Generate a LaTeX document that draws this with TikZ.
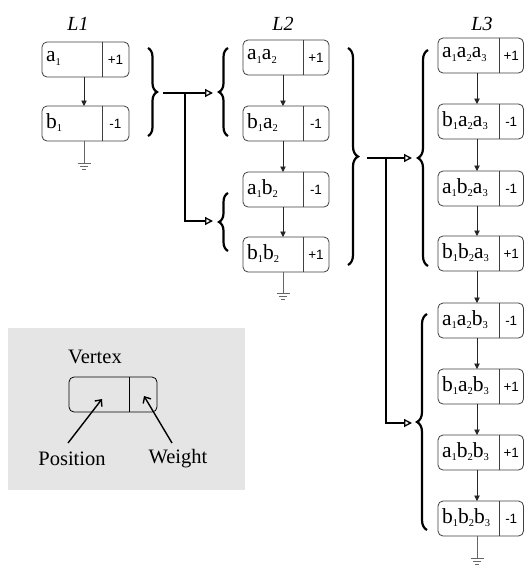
\documentclass[tikz,border=0pt]{standalone}
\usepackage{fontspec}
\setmainfont{Liberation Serif}
\newfontfamily\wfont{Liberation Sans}
\usetikzlibrary{arrows.meta,decorations.pathreplacing,calc}
\newcommand\sbx[1]{\raisebox{-0.35ex}{\fontsize{10.5}{10}\selectfont #1}}
\newcommand\vtx[7]{%
  \node[vbox, anchor=north west, minimum width={(#4-#2)*1pt}] (#1) at (#2,#3) {};
  \draw[splitl] (#5,#3) -- (#5,{#3+35});
  \node[lbl] at ([xshift=4pt,yshift=1pt]#1.west) {#6};
  \node[wt] at ({(#4+#5)/2},{#3+17.5}) {#7};
}
\newcommand\gndsym[1]{%
  \draw[gndl] ($(#1)+(-6.5,0)$) -- ($(#1)+(6.5,0)$);
  \draw[gndl] ($(#1)+(-4,3)$) -- ($(#1)+(4,3)$);
  \draw[gndl] ($(#1)+(-2,6)$) -- ($(#1)+(2,6)$);
}
\begin{document}
\begin{tikzpicture}[x=1pt,y=-1pt,
  vbox/.style={draw=black!75, line width=0.8pt, rounded corners=5pt, minimum height=35pt, inner sep=0pt, outer sep=0pt},
  splitl/.style={draw=black!75, line width=0.8pt},
  lbl/.style={font=\fontsize{21.5}{22}\selectfont, inner sep=0pt, anchor=west},
  wt/.style={font=\wfont\fontsize{13.5}{13}\selectfont, inner sep=0pt},
  varr/.style={draw=black!85, line width=0.9pt, -{Triangle[length=5.5pt,width=5.5pt]}},
  conn/.style={line width=1.3pt, -{Triangle[open,length=8pt,width=8pt]}},
  brc/.style={decorate, decoration={brace, amplitude=#1}, line width=2.2pt},
  gndl/.style={draw=black!60, line width=0.9pt},
  ttl/.style={font=\itshape\fontsize{20}{20}\selectfont, inner sep=0pt},
  ltxt/.style={font=\fontsize{20.5}{21}\selectfont, inner sep=0pt},
  larr/.style={line width=1.4pt, -{Straight Barb[length=5pt,width=9pt]}}
]
\useasboundingbox (0,0) rectangle (525,565);
\fill[white] (0,0) rectangle (525,565);

% titles
\node[ttl] (t1) at (78,24) {L1};
\node[ttl] (t2) at (283,24) {L2};
\node[ttl] (t3) at (482,24) {L3};

% column L1
\vtx{a1}{42}{42}{129}{102}{a\sbx{1}}{+1}
\vtx{b1}{42}{106}{129}{102}{b\sbx{1}}{-1}
\coordinate (x1) at (84,0);
\draw[varr] (a1.south -| x1) -- (b1.north -| x1);
\coordinate (g1) at (84,163);
\draw[gndl] (b1.south -| x1) -- (g1);
\gndsym{g1}

% column L2
\vtx{p1}{243}{40}{329}{303}{a\sbx{1}a\sbx{2}}{+1}
\vtx{p2}{243}{106}{329}{303}{b\sbx{1}a\sbx{2}}{-1}
\vtx{p3}{243}{172}{329}{303}{a\sbx{1}b\sbx{2}}{-1}
\vtx{p4}{243}{237}{329}{303}{b\sbx{1}b\sbx{2}}{+1}
\coordinate (x2) at (283,0);
\draw[varr] (p1.south -| x2) -- (p2.north -| x2);
\draw[varr] (p2.south -| x2) -- (p3.north -| x2);
\draw[varr] (p3.south -| x2) -- (p4.north -| x2);
\coordinate (g2) at (283,293);
\draw[gndl] (p4.south -| x2) -- (g2);
\gndsym{g2}

% column L3
\vtx{q1}{438}{38}{523.5}{499}{a\sbx{1}a\sbx{2}a\sbx{3}}{+1}
\vtx{q2}{438}{104}{523.5}{499}{b\sbx{1}a\sbx{2}a\sbx{3}}{-1}
\vtx{q3}{438}{171}{523.5}{499}{a\sbx{1}b\sbx{2}a\sbx{3}}{-1}
\vtx{q4}{438}{236}{523.5}{499}{b\sbx{1}b\sbx{2}a\sbx{3}}{+1}
\vtx{q5}{438}{303}{523.5}{499}{a\sbx{1}a\sbx{2}b\sbx{3}}{-1}
\vtx{q6}{438}{369}{523.5}{499}{b\sbx{1}a\sbx{2}b\sbx{3}}{+1}
\vtx{q7}{438}{435}{523.5}{499}{a\sbx{1}b\sbx{2}b\sbx{3}}{+1}
\vtx{q8}{438}{501}{523.5}{499}{b\sbx{1}b\sbx{2}b\sbx{3}}{-1}
\coordinate (x3) at (477,0);
\foreach \u/\v in {q1/q2,q2/q3,q3/q4,q4/q5,q5/q6,q6/q7,q7/q8}
  \draw[varr] (\u.south -| x3) -- (\v.north -| x3);
\coordinate (g3) at (477,558);
\draw[gndl] (q8.south -| x3) -- (g3);
\gndsym{g3}

% braces
\draw[brc=9pt] (148,48) -- (148,136);
\draw[brc=9pt] (228,136) -- (228,48);
\draw[brc=9pt] (228,251) -- (228,193);
\draw[brc=10pt] (348,48) -- (348,265);
\draw[brc=10pt] (428,266) -- (428,50);
\draw[brc=10pt] (427,530) -- (427,314);

% connectors level 1 -> 2
\coordinate (s1) at (163,93);
\coordinate (j1) at (185,93);
\coordinate (e1a) at (213,93);
\coordinate (e1b) at (213,221);
\draw[conn] (s1) -- (e1a);
\draw[conn] (j1) |- (e1b);

% connectors level 2 -> 3
\coordinate (s2) at (367,158);
\coordinate (j2) at (386,158);
\coordinate (e2a) at (412,158);
\coordinate (e2b) at (412,423);
\draw[conn] (s2) -- (e2a);
\draw[conn] (j2) |- (e2b);

% legend
\fill[black!10] (8,328) rectangle (245,490);
\node[ltxt] (vt) at (95,357) {Vertex};
\node[vbox, draw=black, anchor=north west, minimum width=88pt] (lg) at (69,377) {};
\draw[splitl, draw=black] (129,377) -- (129,412);
\node[ltxt] (pos) at (72,459) {Position};
\node[ltxt] (wgt) at (178,459) {Weight};
\coordinate (ps) at (68,443);
\coordinate (pe) at (102,399);
\coordinate (ws) at (172,443);
\coordinate (we) at (144,396);
\draw[larr] (ps) -- (pe);
\draw[larr] (ws) -- (we);
\end{tikzpicture}
\end{document}
